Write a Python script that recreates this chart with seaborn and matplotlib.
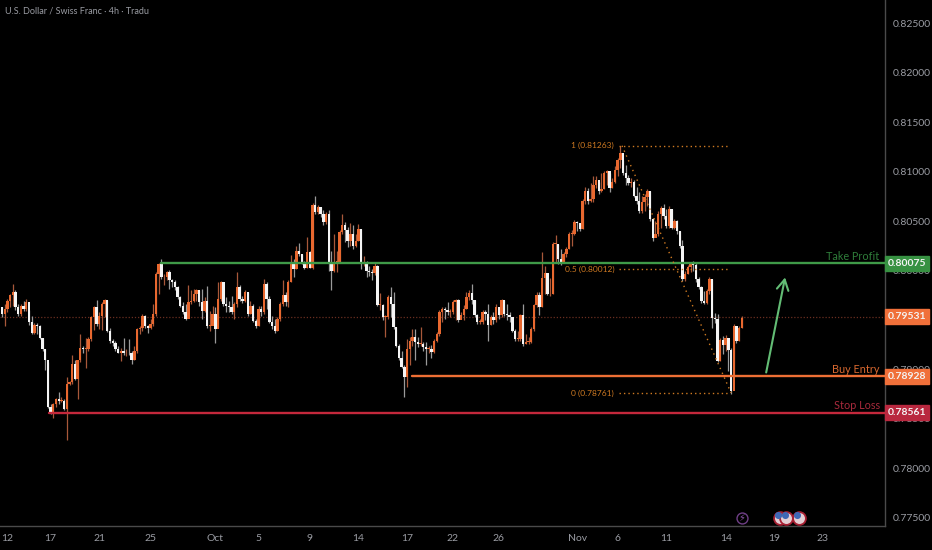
import numpy as np
import pandas as pd
import matplotlib
matplotlib.use('Agg')
import matplotlib.pyplot as plt
from matplotlib.patches import Rectangle
import seaborn as sns

# 4h candles
closes = [
    0.7956, 0.7961, 0.7969, 0.7975, 0.7978, 0.7963, 0.7956, 0.7964, 0.7961, 0.7968, 0.7948, 0.7937,
    0.7945, 0.7944, 0.7932, 0.7921, 0.7909, 0.7862, 0.7857, 0.7865, 0.7870, 0.7868, 0.7868, 0.7860,
    0.7885, 0.7887, 0.7905, 0.7890, 0.7909, 0.7922, 0.7921, 0.7921, 0.7931, 0.7953, 0.7963, 0.7946,
    0.7954, 0.7966, 0.7970, 0.7939, 0.7929, 0.7927, 0.7921, 0.7917, 0.7919, 0.7916, 0.7917, 0.7916,
    0.7909, 0.7919, 0.7941, 0.7942, 0.7954, 0.7944, 0.7942, 0.7946, 0.7956, 0.7996, 0.8007, 0.7993,
    0.7993, 0.7998, 0.7990, 0.7988, 0.7983, 0.7973, 0.7964, 0.7958, 0.7951, 0.7968, 0.7969, 0.7976,
    0.7980, 0.7968, 0.7959, 0.7969, 0.7944, 0.7944, 0.7956, 0.7941, 0.7971, 0.7988, 0.7966, 0.7964,
    0.7963, 0.7958, 0.7966, 0.7983, 0.7971, 0.7969, 0.7978, 0.7956, 0.7964, 0.7949, 0.7944, 0.7961,
    0.7958, 0.7986, 0.7971, 0.7948, 0.7944, 0.7939, 0.7951, 0.7966, 0.7975, 0.7968, 0.7988, 0.8008,
    0.8002, 0.8020, 0.8017, 0.8009, 0.8003, 0.8019, 0.8003, 0.8066, 0.8059, 0.8064, 0.8057, 0.8049,
    0.8057, 0.8009, 0.8000, 0.8009, 0.8009, 0.8039, 0.8046, 0.8041, 0.8030, 0.8037, 0.8025, 0.8030,
    0.8042, 0.8007, 0.8009, 0.8000, 0.7998, 0.7997, 0.8005, 0.7965, 0.7965, 0.7953, 0.7953, 0.7973,
    0.7966, 0.7943, 0.7924, 0.7911, 0.7902, 0.7892, 0.7921, 0.7929, 0.7933, 0.7928, 0.7926, 0.7926,
    0.7923, 0.7921, 0.7921, 0.7918, 0.7929, 0.7936, 0.7958, 0.7961, 0.7960, 0.7958, 0.7958, 0.7968,
    0.7970, 0.7950, 0.7955, 0.7961, 0.7973, 0.7977, 0.7970, 0.7955, 0.7948, 0.7948, 0.7958, 0.7956,
    0.7945, 0.7953, 0.7950, 0.7963, 0.7955, 0.7970, 0.7956, 0.7955, 0.7953, 0.7939, 0.7931, 0.7931,
    0.7955, 0.7926, 0.7928, 0.7928, 0.7941, 0.7965, 0.7975, 0.7963, 0.7992, 0.7997, 0.7976, 0.7976,
    0.8027, 0.8027, 0.8012, 0.8009, 0.8017, 0.8022, 0.8037, 0.8037, 0.8049, 0.8048, 0.8042, 0.8070,
    0.8080, 0.8070, 0.8072, 0.8087, 0.8092, 0.8080, 0.8082, 0.8099, 0.8101, 0.8084, 0.8090, 0.8102,
    0.8112, 0.8119, 0.8099, 0.8094, 0.8089, 0.8090, 0.8075, 0.8070, 0.8060, 0.8069, 0.8074, 0.8080,
    0.8052, 0.8033, 0.8037, 0.8057, 0.8063, 0.8055, 0.8045, 0.8062, 0.8043, 0.8050, 0.8040, 0.8025,
    0.7991, 0.7996, 0.8004, 0.8008, 0.8006, 0.7991, 0.7983, 0.7969, 0.7967, 0.7979, 0.7991, 0.7952,
    0.7951, 0.7908, 0.7930, 0.7925, 0.7932, 0.7920, 0.7878, 0.7944, 0.7929, 0.7942, 0.7952,
]
highs = [
    0.7963, 0.7966, 0.7971, 0.7976, 0.7986, 0.7980, 0.7966, 0.7966, 0.7969, 0.7971, 0.7960, 0.7954,
    0.7947, 0.7947, 0.7945, 0.7932, 0.7921, 0.7907, 0.7865, 0.7866, 0.7871, 0.7877, 0.7872, 0.7870,
    0.7892, 0.7888, 0.7914, 0.7909, 0.7909, 0.7936, 0.7924, 0.7932, 0.7933, 0.7954, 0.7964, 0.7970,
    0.7958, 0.7968, 0.7971, 0.7970, 0.7942, 0.7931, 0.7929, 0.7924, 0.7922, 0.7932, 0.7921, 0.7931,
    0.7919, 0.7924, 0.7942, 0.7944, 0.7956, 0.7955, 0.7945, 0.7951, 0.7966, 0.7998, 0.8008, 0.8012,
    0.7996, 0.8000, 0.8001, 0.7991, 0.7990, 0.7984, 0.7974, 0.7968, 0.7966, 0.7985, 0.7980, 0.7981,
    0.7981, 0.7980, 0.7981, 0.7973, 0.7984, 0.7959, 0.7964, 0.7963, 0.7988, 0.7989, 0.7982, 0.7973,
    0.7969, 0.7974, 0.7968, 0.7998, 0.7985, 0.7974, 0.7980, 0.7978, 0.7969, 0.7966, 0.7951, 0.7964,
    0.7964, 0.7991, 0.7988, 0.7974, 0.7954, 0.7951, 0.7953, 0.7968, 0.7990, 0.7978, 0.7990, 0.8016,
    0.8012, 0.8025, 0.8028, 0.8017, 0.8010, 0.8034, 0.8020, 0.8068, 0.8075, 0.8066, 0.8064, 0.8061,
    0.8059, 0.8061, 0.8020, 0.8037, 0.8020, 0.8041, 0.8057, 0.8049, 0.8044, 0.8048, 0.8046, 0.8037,
    0.8047, 0.8042, 0.8015, 0.8010, 0.8005, 0.8002, 0.8009, 0.8006, 0.7977, 0.7966, 0.7955, 0.7975,
    0.7983, 0.7978, 0.7943, 0.7926, 0.7919, 0.7904, 0.7931, 0.7933, 0.7941, 0.7941, 0.7933, 0.7943,
    0.7928, 0.7928, 0.7924, 0.7925, 0.7931, 0.7938, 0.7960, 0.7963, 0.7963, 0.7968, 0.7961, 0.7970,
    0.7971, 0.7971, 0.7958, 0.7965, 0.7978, 0.7980, 0.7986, 0.7970, 0.7956, 0.7951, 0.7960, 0.7960,
    0.7966, 0.7955, 0.7958, 0.7966, 0.7963, 0.7971, 0.7970, 0.7966, 0.7958, 0.7953, 0.7941, 0.7939,
    0.7956, 0.7966, 0.7936, 0.7933, 0.7943, 0.7966, 0.7978, 0.7978, 0.8019, 0.8005, 0.7995, 0.7992,
    0.8029, 0.8036, 0.8027, 0.8022, 0.8019, 0.8024, 0.8039, 0.8041, 0.8051, 0.8050, 0.8048, 0.8072,
    0.8085, 0.8084, 0.8089, 0.8096, 0.8096, 0.8090, 0.8099, 0.8101, 0.8102, 0.8099, 0.8094, 0.8106,
    0.8114, 0.8126, 0.8112, 0.8107, 0.8097, 0.8094, 0.8092, 0.8085, 0.8079, 0.8075, 0.8077, 0.8082,
    0.8080, 0.8053, 0.8050, 0.8060, 0.8065, 0.8067, 0.8062, 0.8065, 0.8062, 0.8052, 0.8051, 0.8040,
    0.8031, 0.7999, 0.8006, 0.8009, 0.8010, 0.8008, 0.7993, 0.7984, 0.7979, 0.7981, 0.7993, 0.7991,
    0.7957, 0.7956, 0.7932, 0.7934, 0.7935, 0.7925, 0.7922, 0.7946, 0.7942, 0.7944, 0.7954,
]
lows = [
    0.7953, 0.7944, 0.7958, 0.7963, 0.7964, 0.7960, 0.7954, 0.7954, 0.7959, 0.7959, 0.7945, 0.7936,
    0.7936, 0.7936, 0.7931, 0.7919, 0.7899, 0.7861, 0.7855, 0.7851, 0.7862, 0.7865, 0.7867, 0.7859,
    0.7828, 0.7884, 0.7885, 0.7889, 0.7870, 0.7907, 0.7916, 0.7901, 0.7919, 0.7929, 0.7940, 0.7944,
    0.7941, 0.7940, 0.7953, 0.7938, 0.7927, 0.7924, 0.7919, 0.7916, 0.7908, 0.7914, 0.7913, 0.7914,
    0.7905, 0.7909, 0.7917, 0.7936, 0.7939, 0.7942, 0.7937, 0.7941, 0.7944, 0.7954, 0.7976, 0.7991,
    0.7985, 0.7990, 0.7981, 0.7983, 0.7980, 0.7971, 0.7963, 0.7956, 0.7950, 0.7958, 0.7966, 0.7968,
    0.7969, 0.7964, 0.7951, 0.7958, 0.7942, 0.7939, 0.7948, 0.7927, 0.7942, 0.7969, 0.7964, 0.7958,
    0.7958, 0.7956, 0.7951, 0.7963, 0.7969, 0.7967, 0.7968, 0.7954, 0.7956, 0.7948, 0.7942, 0.7944,
    0.7954, 0.7956, 0.7961, 0.7947, 0.7941, 0.7937, 0.7939, 0.7949, 0.7964, 0.7964, 0.7963, 0.7988,
    0.7993, 0.8002, 0.8015, 0.8007, 0.8002, 0.8003, 0.8003, 0.8002, 0.8057, 0.8057, 0.8054, 0.8046,
    0.8047, 0.8000, 0.7980, 0.7998, 0.7998, 0.8009, 0.8037, 0.8029, 0.8024, 0.8025, 0.8022, 0.8024,
    0.8030, 0.8002, 0.8005, 0.7993, 0.7994, 0.7990, 0.7995, 0.7964, 0.7960, 0.7950, 0.7933, 0.7951,
    0.7953, 0.7941, 0.7923, 0.7909, 0.7901, 0.7872, 0.7882, 0.7904, 0.7924, 0.7909, 0.7923, 0.7924,
    0.7919, 0.7904, 0.7916, 0.7911, 0.7917, 0.7928, 0.7934, 0.7948, 0.7951, 0.7955, 0.7953, 0.7956,
    0.7950, 0.7948, 0.7951, 0.7950, 0.7961, 0.7970, 0.7966, 0.7953, 0.7946, 0.7946, 0.7946, 0.7950,
    0.7929, 0.7945, 0.7946, 0.7948, 0.7951, 0.7953, 0.7954, 0.7950, 0.7948, 0.7938, 0.7929, 0.7929,
    0.7929, 0.7924, 0.7926, 0.7926, 0.7927, 0.7939, 0.7963, 0.7955, 0.7963, 0.7976, 0.7975, 0.7974,
    0.7976, 0.8009, 0.8007, 0.8006, 0.8009, 0.8014, 0.8022, 0.8025, 0.8036, 0.8040, 0.8040, 0.8042,
    0.8067, 0.8067, 0.8069, 0.8069, 0.8084, 0.8077, 0.8079, 0.8082, 0.8087, 0.8079, 0.8084, 0.8089,
    0.8096, 0.8104, 0.8097, 0.8087, 0.8087, 0.8085, 0.8074, 0.8067, 0.8058, 0.8058, 0.8060, 0.8065,
    0.8050, 0.8030, 0.8035, 0.8035, 0.8043, 0.8052, 0.8043, 0.8043, 0.8042, 0.8042, 0.8037, 0.8023,
    0.7989, 0.7989, 0.7996, 0.7998, 0.7999, 0.7988, 0.7981, 0.7967, 0.7966, 0.7966, 0.7976, 0.7942,
    0.7947, 0.7907, 0.7908, 0.7915, 0.7919, 0.7898, 0.7875, 0.7892, 0.7927, 0.7929, 0.7942,
]
first_open = 0.7963

price_ticks = [0.775, 0.78, 0.785, 0.79, 0.795, 0.80, 0.805, 0.81, 0.815, 0.82, 0.825]
date_labels = ['12', '17', '21', '25', 'Oct', '5', '9', '14', '17', '22', '26', 'Nov', '6', '11', '14', '19', '23']
date_bars = [2, 18, 36, 55, 79, 95, 114, 132, 150, 167, 184, 213, 228, 246, 268, 286, 304]

level_names = ['Take Profit', 'Buy Entry', 'Stop Loss']
level_prices = [0.80075, 0.78928, 0.78561]
level_starts = [59, 152, 17.5]
level_colors = ['#3f9a48', '#ee6f35', '#c4283c']
text_colors = ['#2f7d3a', '#d9682f', '#a82a3c']
tag_colors = ['#379142', '#f0703a', '#b9283f']
last_price = 0.79531

fib_labels = ['1 (0.81263)', '0.5 (0.80012)', '0 (0.78761)']
fib_prices = [0.81263, 0.80012, 0.78761]

up_color = '#e8682f'
down_color = '#f5f5f5'
gray = '#9a9ca3'

sns.set_style('dark', rc={'axes.facecolor': 'black', 'figure.facecolor': 'black'})
plt.rcParams['font.family'] = ['Lato', 'DejaVu Sans']

df = pd.DataFrame({'close': closes, 'high': highs, 'low': lows})
df['bar'] = np.arange(len(df))
df['open'] = df['close'].shift(1).fillna(first_open)
df['up'] = df['close'] >= df['open']
df['color'] = np.where(df['up'], up_color, down_color)

fig = plt.figure(figsize=(9.32, 5.5), dpi=100)
ax = fig.add_axes([0, 24 / 550, 885 / 932, 526 / 550])

# last price line goes under the candles
ax.axhline(last_price, color='#6b2f20', lw=0.9, ls=(0, (1, 1.5)), zorder=1)

# wicks and bodies
ax.vlines(df['bar'], df['low'], df['high'], colors=np.where(df['up'], '#a8583a', '#9a9a9a'), lw=0.9, zorder=2)
ax.bar(df['bar'], (df['close'] - df['open']).abs().clip(lower=0.00006),
       bottom=df[['open', 'close']].min(axis=1), width=0.88, color=df['color'], lw=0, zorder=3)

# trade levels
right_bar = 327
for name, price, start, color in zip(level_names, level_prices, level_starts, level_colors):
    line = pd.DataFrame({'bar': [start, right_bar], 'price': [price, price]})
    sns.lineplot(data=line, x='bar', y='price', color=color, lw=1.7, ax=ax, zorder=4, estimator=None, legend=False)

# fib retracement
fib_color = '#cf7a22'
for label, price in zip(fib_labels, fib_prices):
    ax.plot([228.5, 269.6], [price, price], color=fib_color, lw=1, ls=(0, (1, 2.2)), zorder=4)
    ax.text(226.7, price, label, color=fib_color, fontsize=6, ha='right', va='center', zorder=5)
ax.plot([229.6, 270], [fib_prices[0], fib_prices[2]], color=fib_color, lw=1, ls=(0, (1, 2.8)), zorder=4)

# arrow to the target
ax.annotate('', xy=(290, 0.7993), xytext=(283, 0.78968),
            arrowprops=dict(arrowstyle='->,head_length=0.75,head_width=0.42', color='#63bd75', lw=1.5,
                            shrinkA=0, shrinkB=0), zorder=5)

ax.set_xlim(-0.74, right_bar)
ax.set_ylim(0.77414, 0.82738)
ax.set_xlabel('')
ax.set_ylabel('')
ax.set_xticks(date_bars)
ax.set_xticklabels(date_labels)
ax.set_yticks(price_ticks)
ax.set_yticklabels(['%.5f' % p for p in price_ticks])
ax.yaxis.tick_right()
ax.tick_params(axis='both', length=0, labelsize=7.5, labelcolor=gray)
ax.tick_params(axis='x', pad=5.5)
ax.tick_params(axis='y', pad=5.5)
ax.grid(False)
for side in ['top', 'left']:
    ax.spines[side].set_visible(False)
for side in ['right', 'bottom']:
    ax.spines[side].set_visible(True)
    ax.spines[side].set_color('#4a4a4a')
    ax.spines[side].set_linewidth(1)

# level names and price tags
tag_tf = ax.get_yaxis_transform()
tag_h = 0.0015
for name, price, color, tcolor in zip(level_names, level_prices, tag_colors, text_colors):
    ax.text(0.994, price + 0.00012, name, color=tcolor, fontsize=7.8, ha='right', va='bottom',
            transform=tag_tf, zorder=5)
for price, color in zip(level_prices + [last_price], tag_colors + ['#f0703a']):
    ax.add_patch(Rectangle((1.0, price - tag_h / 2), 0.0495, tag_h, transform=tag_tf, color=color,
                           clip_on=False, zorder=6))
    ax.text(1.025, price, '%.5f' % price, color='#f4f4f4', fontsize=7.5, fontweight='bold', ha='center', va='center',
            transform=tag_tf, clip_on=False, zorder=7)

# event icons along the bottom
ax.scatter([274], [0.775], s=62, facecolor='black', edgecolor='#6f3f86', lw=1, zorder=5)
ax.text(274, 0.775, '\u26a1', color='#8d55a8', fontsize=7, ha='center', va='center', family='DejaVu Sans', zorder=6)
for bar in [288, 290.5, 295]:
    ax.scatter([bar], [0.775], s=85, facecolor='#e4cfd4', edgecolor='#a61f32', lw=1.3, zorder=5)
    ax.scatter([bar - 0.5], [0.77525], s=26, color='#3f68b5', lw=0, zorder=6)

fig.text(5 / 932, 1 - 11 / 550, 'U.S. Dollar / Swiss Franc \u00b7 4h \u00b7 Tradu', color=gray, fontsize=6.5,
         ha='left', va='center')

fig.savefig('out.png', dpi=100, facecolor='black')
